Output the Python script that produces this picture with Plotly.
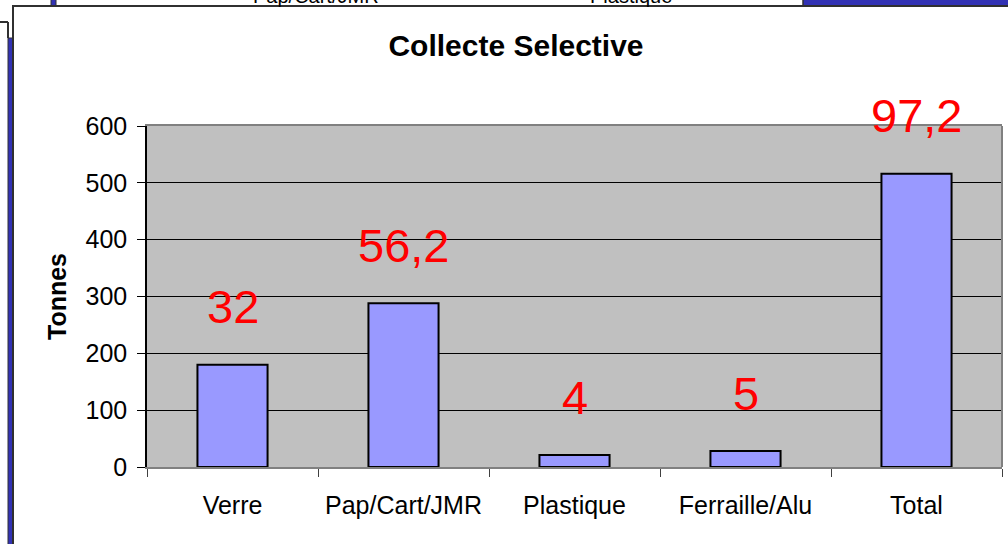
import plotly.graph_objects as go

# data
categories = ["Verre", "Pap/Cart/JMR", "Plastique", "Ferraille/Alu", "Total"]
tonnes = [180, 288, 21, 28, 516]
labels = ["32", "56,2", "4", "5", "97,2"]
y_ticks = [0, 100, 200, 300, 400, 500, 600]

# page geometry (pixels)
W, H = 1008, 544
L, R, T, B = 147, 6, 126, 77
PW, PH = W - L - R, H - T - B


def px(x):
    return (x - L) / PW


def py(y):
    return (H - B - y) / PH


FONT = "Liberation Sans, Arial, sans-serif"
BLUE = "#3232b4"
EDGE = "#303030"

fig = go.Figure()

fig.add_trace(go.Bar(
    x=categories,
    y=tonnes,
    width=0.41,
    marker=dict(color="#9999ff", line=dict(color="#000000", width=2)),
    showlegend=False,
    hoverinfo="x+y",
))

# red value labels floating above bars
for cat, val, lab in zip(categories, tonnes, labels):
    fig.add_annotation(
        x=cat, y=val, text=lab, showarrow=False,
        xref="x", yref="y", yanchor="middle", yshift=58,
        font=dict(family=FONT, size=47, color="#ff0000"),
    )

# pieces of the neighbouring charts peeking out behind the frame
for name, cx in [("Pap/Cart/JMR", 316), ("Plastique", 631)]:
    fig.add_annotation(x=px(cx), y=py(9), xref="paper", yref="paper",
                       text=name, showarrow=False,
                       xanchor="center", yanchor="bottom",
                       font=dict(family=FONT, size=20, color="#000000"))

shapes = [
    # left blue strip of the chart behind
    dict(type="rect", x0=px(8), x1=px(13), y0=py(38), y1=py(560),
         fillcolor=BLUE, line=dict(color=EDGE, width=1)),
    dict(type="line", x0=px(-2), x1=px(8), y0=py(22), y1=py(22),
         line=dict(color=EDGE, width=2)),
    dict(type="line", x0=px(8), x1=px(8), y0=py(22), y1=py(38),
         line=dict(color=EDGE, width=2)),
    # top blue bits
    dict(type="rect", x0=px(51), x1=px(56), y0=py(-4), y1=py(6),
         fillcolor=BLUE, line=dict(color=EDGE, width=1)),
    dict(type="rect", x0=px(803), x1=px(1012), y0=py(-4), y1=py(6),
         fillcolor=BLUE, line=dict(color=EDGE, width=1.5)),
    # main chart frame
    dict(type="rect", x0=px(13), x1=px(1014), y0=py(6), y1=py(550),
         fillcolor="rgba(0,0,0,0)", line=dict(color=EDGE, width=2)),
    # grey right border of plot area
    dict(type="line", x0=1, x1=1, y0=0, y1=1, layer="above",
         line=dict(color="#808080", width=2)),
]
for s in shapes:
    s.setdefault("xref", "paper")
    s.setdefault("yref", "paper")
    fig.add_shape(**s)

fig.update_layout(
    width=W, height=H,
    margin=dict(l=L, r=R, t=T, b=B),
    paper_bgcolor="#ffffff",
    plot_bgcolor="#c0c0c0",
    font=dict(family=FONT, size=24, color="#000000"),
    title=dict(text="<b>Collecte Selective</b>", x=516 / W, xanchor="center",
               y=1 - 45 / H, yanchor="middle",
               font=dict(family=FONT, size=30, color="#000000")),
    bargap=0.59,
)

fig.update_xaxes(
    type="category",
    showline=True, linecolor="#808080", linewidth=2, mirror=True,
    ticks="outside", tickson="boundaries", ticklen=8, tickcolor="#404040",
    tickfont=dict(family=FONT, size=25),
    ticklabelstandoff=15,
    showgrid=False,
)

fig.update_yaxes(
    range=[0, 600],
    tickvals=y_ticks,
    showline=True, linecolor="#000000", linewidth=1.5,
    ticks="outside", ticklen=8, tickcolor="#000000",
    tickfont=dict(family=FONT, size=25),
    ticklabelstandoff=5,
    showgrid=True, gridcolor="#000000", gridwidth=1,
    zeroline=False,
    title=dict(text="<b>Tonnes</b>", standoff=12,
               font=dict(family=FONT, size=25)),
)

# the page body has an 8px default margin; drop it so the chart fills the window
fig.write_html("out.html", config={"displayModeBar": False},
               post_script="document.body.style.margin='0px';")
